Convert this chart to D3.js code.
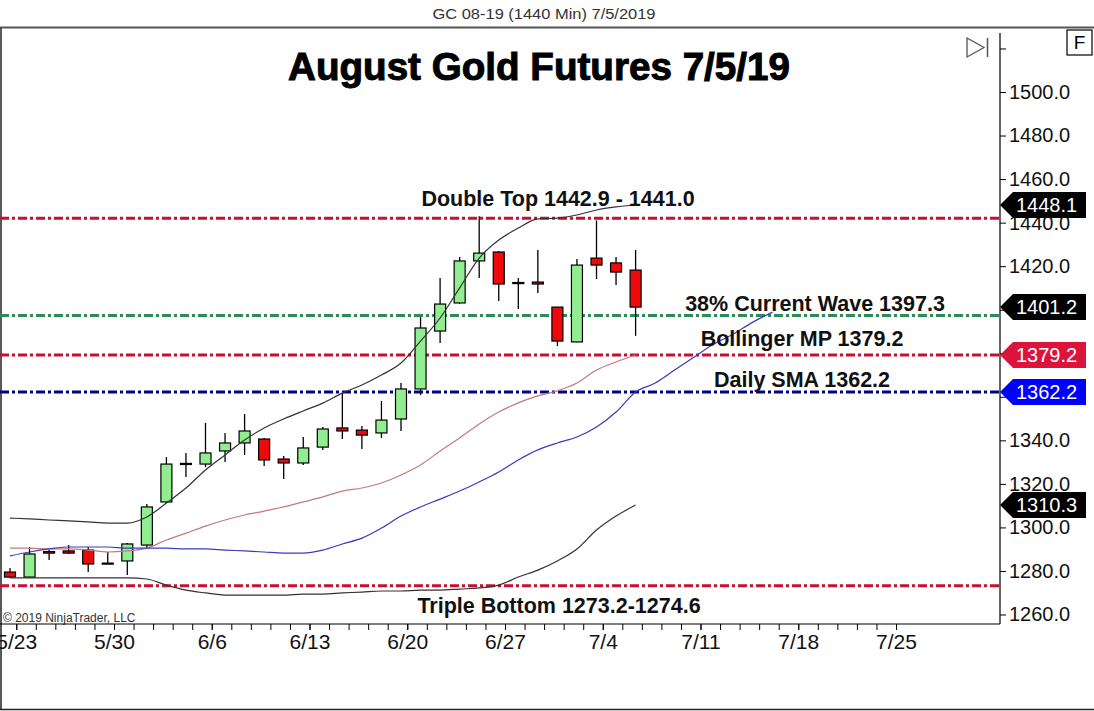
<!DOCTYPE html>
<html>
<head>
<meta charset="utf-8">
<script src="https://cdn.jsdelivr.net/npm/d3@7"></script>
<style>
body { margin: 0; background: #fff; }
text { font-family: "Liberation Sans", Arial, sans-serif; }
</style>
</head>
<body>
<script>
// daily bars, GC 08-19
var dates = ["5/22","5/23","5/24","5/27","5/28","5/29","5/30","5/31","6/3","6/4","6/5","6/6","6/7",
  "6/10","6/11","6/12","6/13","6/14","6/17","6/18","6/19","6/20","6/21","6/24","6/25","6/26","6/27",
  "6/28","7/1","7/2","7/3","7/4","7/5"];
var open  = [1279.5,1277.2,1288.9,1289.2,1289.6,1283.6,1284.6,1291.9,1311.7,1329.4,1329.1,1335.1,1338.8,
  1340.6,1331.4,1329.6,1336.9,1345.7,1344.7,1343.4,1349.8,1363.6,1390.2,1403.1,1422.4,1426.5,1412.5,
  1412.7,1401.2,1385.2,1423.7,1421.5,1418.2];
var high  = [1281.4,1291.0,1289.6,1291.9,1291.0,1288.7,1292.8,1310.7,1332.3,1334.2,1348.0,1343.4,1352.1,
  1341.1,1332.8,1341.5,1346.1,1361.7,1346.6,1358.1,1366.3,1396.6,1414.6,1424.2,1442.9,1427.0,1414.6,
  1427.4,1401.2,1423.3,1441.0,1424.2,1427.4];
var low   = [1276.8,1276.8,1285.0,1287.8,1279.5,1283.2,1278.1,1290.5,1311.2,1323.2,1327.7,1330.0,1333.3,
  1328.2,1322.2,1328.7,1335.6,1340.6,1336.0,1341.1,1344.3,1360.8,1384.7,1402.6,1414.6,1404.0,1400.3,
  1407.7,1383.3,1385.0,1414.1,1411.3,1388.0];
var close = [1277.2,1287.8,1288.2,1288.2,1283.2,1283.4,1292.4,1309.4,1329.1,1328.9,1334.2,1338.8,1344.3,
  1331.0,1329.6,1336.5,1345.2,1344.3,1342.4,1349.3,1363.6,1391.6,1402.6,1422.4,1426.0,1411.8,1412.0,
  1411.8,1385.6,1420.5,1420.5,1417.3,1401.2];

// bollinger bands
var upperBand  = [1304.3,1303.9,1303.4,1303.0,1302.5,1302.0,1302.0,1304.8,1311.2,1318.1,1326.4,1333.3,1340.1,
  1345.7,1349.8,1353.5,1357.1,1361.7,1365.4,1370.0,1375.5,1385.6,1396.2,1410.0,1423.7,1432.0,1437.5,
  1441.7,1442.1,1443.5,1445.8,1447.2,1448.1];
var middleBand = [1290.5,1290.5,1290.1,1290.1,1289.6,1288.7,1289.2,1290.5,1294.2,1297.4,1300.6,1303.4,1305.7,
  1307.5,1309.4,1311.7,1314.0,1316.7,1318.1,1320.4,1324.1,1328.7,1335.1,1341.1,1347.5,1353.0,1357.2,
  1360.4,1362.7,1366.3,1372.3,1376.0,1379.2];
var lowerBand  = [1276.8,1276.8,1276.8,1276.8,1276.8,1276.8,1276.8,1276.3,1273.5,1271.2,1269.9,1268.9,1268.9,
  1268.9,1268.9,1269.4,1269.4,1269.9,1270.3,1270.8,1270.8,1271.2,1271.2,1271.7,1272.2,1273.5,1277.2,
  1280.4,1284.6,1290.1,1298.8,1305.2,1310.3];
// displaced daily SMA (runs past the last bar)
var smaLine = [1286.9,1288.7,1290.1,1291.0,1291.0,1291.0,1290.5,1290.5,1290.5,1290.1,1290.1,1289.6,1289.2,
  1288.7,1288.2,1288.2,1289.6,1292.4,1295.1,1299.7,1305.2,1309.4,1313.0,1316.7,1320.9,1325.5,1331.0,
  1335.6,1338.8,1341.5,1346.1,1353.0,1362.2,1366.3,1372.3,1378.3,1384.2,1388.8,1394.3,1398.9];

var xLabels    = ["5/23","5/30","6/6","6/13","6/20","6/27","7/4","7/11","7/18","7/25"];
var xLabelBars = [1, 6, 11, 16, 21, 26, 31, 36, 41, 46];
var yTicks = [1260,1280,1300,1320,1340,1360,1380,1400,1420,1440,1460,1480,1500,1520];
// labels fully covered by the price markers
var yHidden = [1360, 1380, 1400, 1520];

var levels     = [1442.0, 1397.3, 1379.2, 1362.2, 1273.2];
var levelNames = ["Double Top 1442.9 - 1441.0", "38% Current Wave 1397.3", "Bollinger MP 1379.2",
  "Daily SMA 1362.2", "Triple Bottom 1273.2-1274.6"];
var markers = [1448.1, 1401.2, 1379.2, 1362.2, 1310.3];

var W = 1094, H = 711, axisX = 1000, axisY = 624;

var levelColors = ["#c8102e", "#2e8b57", "#c8102e", "#00008b", "#c8102e"];
var levelText = [[558, 206], [815, 311], [802, 346], [802, 387], [559, 613]];
var markerColors = ["#000", "#000", "#dc143c", "#0000ff", "#000"];

var x = d3.scaleLinear().domain([0, 46]).range([10, 909.3]);
var y = d3.scaleLinear().domain([1260, 1500]).range([614.5, 92]);

var svg = d3.select("body").append("svg")
    .attr("width", W)
    .attr("height", H);

svg.append("rect").attr("width", W).attr("height", H).attr("fill", "#fff");

// header
svg.append("text")
    .attr("x", 544).attr("y", 19)
    .attr("text-anchor", "middle")
    .attr("font-size", "14px")
    .attr("fill", "#333")
    .attr("textLength", 223)
    .attr("lengthAdjust", "spacingAndGlyphs")
    .text("GC 08-19 (1440 Min)  7/5/2019");

svg.append("line").attr("x1", 0).attr("x2", W).attr("y1", 27.5).attr("y2", 27.5)
    .attr("stroke", "#555").attr("stroke-width", 2);
svg.append("line").attr("x1", 1).attr("x2", 1).attr("y1", 28).attr("y2", 709)
    .attr("stroke", "#222").attr("stroke-width", 1.5);
svg.append("line").attr("x1", 0).attr("x2", W).attr("y1", 709.5).attr("y2", 709.5)
    .attr("stroke", "#222").attr("stroke-width", 1.5);

// title
svg.append("text")
    .attr("x", 288).attr("y", 80)
    .attr("font-size", "38px")
    .attr("font-weight", "bold")
    .attr("fill", "#000")
    .attr("stroke", "#000").attr("stroke-width", 1)
    .attr("textLength", 502)
    .attr("lengthAdjust", "spacingAndGlyphs")
    .text("August Gold Futures 7/5/19");

// level lines
svg.append("g").selectAll("line")
    .data(levels)
  .join("line")
    .attr("x1", 0).attr("x2", axisX)
    .attr("y1", function(d) { return y(d); })
    .attr("y2", function(d) { return y(d); })
    .attr("stroke", function(d, i) { return levelColors[i]; })
    .attr("stroke-width", 3)
    .attr("stroke-dasharray", "9,3,3,3");

// candles
var bars = dates.map(function(d, i) {
    return {date: d, i: i, o: open[i], h: high[i], l: low[i], c: close[i]};
});
var candle = svg.append("g").selectAll("g")
    .data(bars)
  .join("g");

candle.append("line")
    .attr("x1", function(d) { return x(d.i); })
    .attr("x2", function(d) { return x(d.i); })
    .attr("y1", function(d) { return y(d.h); })
    .attr("y2", function(d) { return y(d.l); })
    .attr("stroke", "#000")
    .attr("stroke-width", 1.3);

candle.append("rect")
    .attr("x", function(d) { return x(d.i) - 5.5; })
    .attr("width", 11)
    .attr("y", function(d) { return y(Math.max(d.o, d.c)); })
    .attr("height", function(d) { return Math.max(1, Math.abs(y(d.o) - y(d.c))); })
    .attr("fill", function(d) { return d.c >= d.o ? "#90ee90" : "#ee0a0a"; })
    .attr("stroke", "#000")
    .attr("stroke-width", 1.2);

// indicator lines
function drawLine(values, color, w) {
    var line = d3.line()
        .x(function(d, i) { return x(i); })
        .y(function(d) { return y(d); })
        .curve(d3.curveMonotoneX);
    svg.append("path")
        .datum(values)
        .attr("d", line)
        .attr("fill", "none")
        .attr("stroke", color)
        .attr("stroke-width", w);
}
drawLine(upperBand, "#333", 1.2);
drawLine(lowerBand, "#333", 1.2);
drawLine(middleBand, "#c47a7a", 1.2);
drawLine(smaLine, "#3a3ac0", 1.2);

// annotations
svg.append("g").selectAll("text")
    .data(levelNames)
  .join("text")
    .attr("x", function(d, i) { return levelText[i][0]; })
    .attr("y", function(d, i) { return levelText[i][1]; })
    .attr("text-anchor", "middle")
    .attr("font-size", "21.5px")
    .attr("font-weight", "bold")
    .attr("fill", "#111")
    .text(function(d) { return d; });

svg.append("text")
    .attr("x", 3).attr("y", 622)
    .attr("font-size", "12px")
    .attr("fill", "#333")
    .text("\u00a9 2019 NinjaTrader, LLC");

// x axis
var xAxis = svg.append("g")
    .attr("transform", "translate(0," + axisY + ")")
    .call(d3.axisBottom(x)
        .tickValues(d3.range(0, 47).map(function(i) { return i - 0.68; }))
        .tickFormat("")
        .tickSize(6));
xAxis.select(".domain").remove();

var xLab = svg.append("g")
    .attr("transform", "translate(0," + axisY + ")")
    .call(d3.axisBottom(x)
        .tickValues(xLabelBars.map(function(b) { return b - 0.68; }))
        .tickFormat(function(d, i) { return xLabels[i]; })
        .tickSize(6)
        .tickPadding(4));
xLab.select(".domain").remove();
xLab.selectAll("text").attr("font-size", "21px").attr("fill", "#111");

svg.append("line").attr("x1", 0).attr("x2", axisX).attr("y1", axisY).attr("y2", axisY)
    .attr("stroke", "#000").attr("stroke-width", 1.2);

// y axis
var yAxis = svg.append("g")
    .attr("transform", "translate(" + axisX + ",0)")
    .call(d3.axisRight(y)
        .tickValues(yTicks)
        .tickSize(6)
        .tickPadding(3)
        .tickFormat(function(v) { return yHidden.indexOf(v) >= 0 ? "" : v.toFixed(1); }));
yAxis.select(".domain").remove();
yAxis.selectAll("text").attr("font-size", "20px").attr("fill", "#111");

svg.append("line").attr("x1", axisX).attr("x2", axisX).attr("y1", 33).attr("y2", axisY)
    .attr("stroke", "#000").attr("stroke-width", 1.2);

// price markers
var mk = svg.append("g").selectAll("g")
    .data(markers)
  .join("g")
    .attr("transform", function(d) { return "translate(" + axisX + "," + y(d) + ")"; });
mk.append("path")
    .attr("d", "M0,0L13,-13L86,-13L86,13L13,13Z")
    .attr("fill", function(d, i) { return markerColors[i]; });
mk.append("text")
    .attr("x", 16).attr("dy", "0.36em")
    .attr("font-size", "20px")
    .attr("fill", "#fff")
    .text(function(d) { return d.toFixed(1); });

// top-right icons
svg.append("path")
    .attr("d", "M967,38L984,47.5L967,57Z")
    .attr("fill", "none").attr("stroke", "#555").attr("stroke-width", 1.3);
svg.append("line").attr("x1", 987.5).attr("x2", 987.5).attr("y1", 38).attr("y2", 57)
    .attr("stroke", "#555").attr("stroke-width", 1.5);
svg.append("rect").attr("x", 1067).attr("y", 30).attr("width", 25).attr("height", 25)
    .attr("fill", "#fff").attr("stroke", "#000").attr("stroke-width", 1.2);
svg.append("text").attr("x", 1079.5).attr("y", 49).attr("text-anchor", "middle")
    .attr("font-size", "19px").attr("fill", "#000").text("F");
</script>
</body>
</html>
